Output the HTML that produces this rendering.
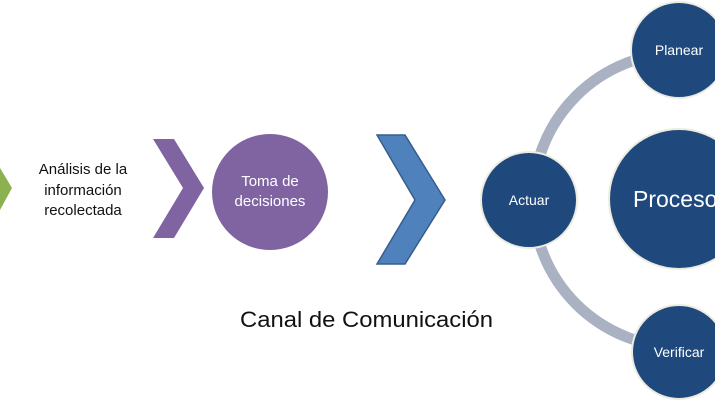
<!DOCTYPE html>
<html><head><meta charset="utf-8"><style>body{margin:0;background:#fff}svg{display:block}</style></head><body>
<svg width="715" height="400" viewBox="0 0 715 400" xmlns="http://www.w3.org/2000/svg" font-family="Liberation Sans, sans-serif">
<rect width="715" height="400" fill="#fff"/>
<polygon points="0,168 0,168 12,188 0,210" fill="#8bb150"/>
<text text-anchor="middle" font-size="15" fill="#111"><tspan x="83" y="174">Análisis de la</tspan><tspan x="83" y="195">información</tspan><tspan x="83" y="215">recolectada</tspan></text>
<polygon points="153,139 174,139 204,188 174,238 153,238 183,188" fill="#8064a2"/>
<circle cx="270" cy="192" r="58" fill="#8064a2"/>
<text text-anchor="middle" font-size="15" fill="#fff"><tspan x="270" y="186">Toma de</tspan><tspan x="270" y="206">decisiones</tspan></text>
<polygon points="377,135 405,135 445,200 405,264 377,264 415,200" fill="#4f81bd" stroke="#385d8a" stroke-width="1.5"/>
<text x="240" y="327" font-size="22" fill="#111" textLength="253" lengthAdjust="spacingAndGlyphs">Canal de Comunicación</text>
<circle cx="680" cy="200" r="147" fill="none" stroke="#a9b1c3" stroke-width="11"/>
<g fill="#1f497d" stroke="#eeece1" stroke-width="2">
<circle cx="529" cy="200" r="48"/>
<circle cx="679" cy="50" r="48"/>
<circle cx="679" cy="199" r="70"/>
<circle cx="679" cy="352" r="47"/>
</g>
<g fill="#fff" text-anchor="middle">
<text x="529" y="205" font-size="14">Actuar</text>
<text x="679" y="55" font-size="14">Planear</text>
<text x="633" y="207" font-size="23" text-anchor="start">Proceso</text>
<text x="679" y="357" font-size="14">Verificar</text>
</g>
</svg>
</body></html>
